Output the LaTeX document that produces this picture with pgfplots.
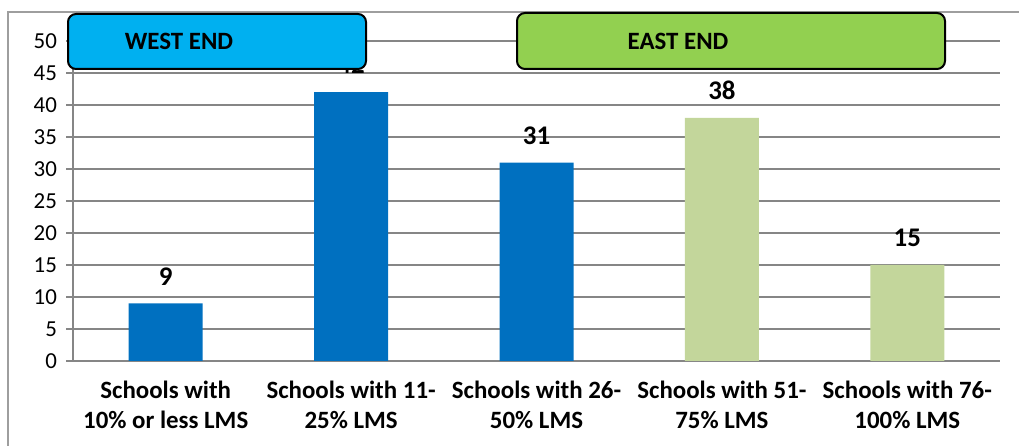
\documentclass[border=0pt]{standalone}
\usepackage{fontspec}
\setmainfont{Carlito}
\usepackage{pgfplots}
\pgfplotsset{compat=1.18}
\definecolor{barblue}{HTML}{0070C0}
\definecolor{bargreen}{HTML}{C3D69B}
\definecolor{boxblue}{HTML}{00B0F0}
\definecolor{boxgreen}{HTML}{92D050}
\definecolor{gridgray}{HTML}{868686}
\begin{document}
\begin{tikzpicture}[x=0.5bp,y=0.5bp]
\useasboundingbox (0,0) rectangle (1019,446);
\draw[gridgray!80, line width=1bp] (8,0) -- (8,434) -- (1019,434);
\begin{axis}[
  at={(36.5bp,42.5bp)}, anchor=south west,
  scale only axis, width=463.5bp, height=160bp,
  xmin=-0.5, xmax=4.5, ymin=0, ymax=50,
  ytick={0,5,...,50},
  xtick={0,...,4},
  xticklabels={{Schools with\\10\% or less LMS},{Schools with 11-\\25\% LMS},{Schools with 26-\\50\% LMS},{Schools with 51-\\75\% LMS},{Schools with 76-\\100\% LMS}},
  minor xtick={-0.5,0.5,...,4.5},
  xtick style={draw=none},
  minor tick length=3.5bp,
  major tick length=3.5bp,
  tick align=outside,
  tick style={gridgray, line width=1bp},
  minor x tick style={gridgray, line width=1bp},
  axis x line*=bottom, axis y line*=left,
  axis line style={gridgray, line width=1bp},
  ymajorgrids, grid style={gridgray, line width=1bp},
  /pgf/number format/assume math mode=true,
  yticklabel style={font=\fontsize{11.5}{13}\selectfont, xshift=-1bp},
  xticklabel style={align=center, font=\bfseries\fontsize{12.5}{15}\selectfont, yshift=-3bp},
  ybar, bar width=37bp, bar shift=0pt,
  nodes near coords,
  nodes near coords style={font=\bfseries\fontsize{13.5}{16}\selectfont, anchor=center, yshift=13.5bp, text=black},
]
\addplot[fill=barblue, draw=none] coordinates {(0,9) (1,42) (2,31)};
\addplot[fill=bargreen, draw=none] coordinates {(3,38) (4,15)};
\end{axis}
\draw[fill=boxblue, draw=black, line width=1bp, rounded corners=4bp] (68,377) rectangle (366,432);
\node[font=\bfseries\fontsize{12.5}{15}\selectfont] at (179,405) {WEST END};
\draw[fill=boxgreen, draw=black, line width=1bp, rounded corners=4bp] (517,377) rectangle (945,433);
\node[font=\bfseries\fontsize{12.5}{15}\selectfont] at (678,405) {EAST END};
\end{tikzpicture}
\end{document}
